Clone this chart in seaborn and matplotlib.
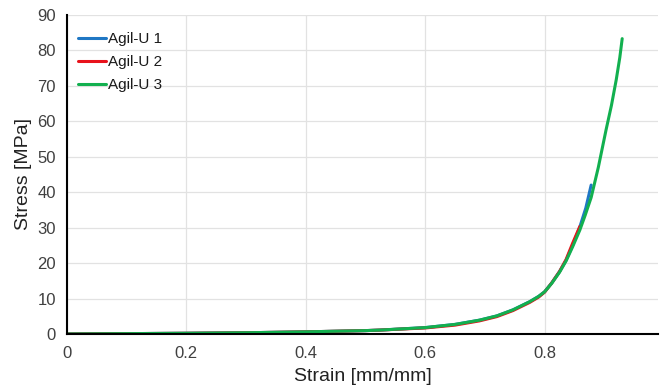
import numpy as np
import pandas as pd
import matplotlib
matplotlib.use("Agg")
import matplotlib.pyplot as plt
import seaborn as sns

# Stress-strain curves for three Agil-U specimens
strain_1 = [0.0, 0.1, 0.2, 0.3, 0.4, 0.5, 0.524, 0.6, 0.65, 0.691, 0.72, 0.747, 0.775, 0.79, 0.8, 0.812, 0.825, 0.836, 0.847, 0.859, 0.869, 0.878]
stress_1 = [0.0, 0.1, 0.2, 0.35, 0.6, 0.95, 1.1, 1.8, 2.7, 3.9, 5.1, 6.8, 9.1, 10.6, 11.9, 14.4, 17.6, 20.8, 25.0, 30.2, 35.5, 42.0]

strain_2 = [0.0, 0.1, 0.2, 0.3, 0.4, 0.5, 0.524, 0.6, 0.65, 0.691, 0.72, 0.747, 0.775, 0.79, 0.8, 0.812, 0.825, 0.836, 0.847, 0.859]
stress_2 = [0.0, 0.1, 0.2, 0.35, 0.6, 0.95, 1.1, 1.7, 2.5, 3.7, 4.9, 6.6, 8.9, 10.4, 11.8, 14.4, 17.6, 21.0, 25.6, 30.3]

strain_3 = [0.0, 0.1, 0.2, 0.3, 0.4, 0.5, 0.524, 0.6, 0.65, 0.691, 0.72, 0.747, 0.775, 0.79, 0.8, 0.812, 0.825, 0.836, 0.847, 0.859, 0.868, 0.878, 0.89, 0.903, 0.912, 0.92, 0.926, 0.93]
stress_3 = [0.0, 0.1, 0.2, 0.35, 0.6, 0.95, 1.1, 1.8, 2.7, 3.9, 5.1, 6.8, 9.1, 10.6, 11.9, 14.3, 17.4, 20.6, 24.6, 29.3, 33.5, 38.5, 47.0, 57.6, 64.5, 71.7, 78.0, 83.3]

labels = ["Agil-U 1", "Agil-U 2", "Agil-U 3"]
colors = ["#1f77c4", "#e8121b", "#12b04f"]

frames = []
for lab, sx, sy in zip(labels, [strain_1, strain_2, strain_3], [stress_1, stress_2, stress_3]):
    frames.append(pd.DataFrame({"strain": sx, "stress": sy, "sample": lab}))
df = pd.concat(frames, ignore_index=True)

sns.set_style("white")
plt.rcParams["font.family"] = ["Liberation Sans", "DejaVu Sans"]

fig, ax = plt.subplots(figsize=(6.6, 3.92), dpi=100)
fig.subplots_adjust(left=0.1015, right=0.997, top=0.962, bottom=0.148)

sns.lineplot(data=df, x="strain", y="stress", hue="sample", palette=colors,
             sort=False, estimator=None, linewidth=2.2, ax=ax)

ax.set_xlim(0, 0.99)
ax.set_ylim(0, 90)
ax.set_xticks([0, 0.2, 0.4, 0.6, 0.8])
ax.set_xticklabels(["0", "0.2", "0.4", "0.6", "0.8"])
ax.set_yticks(range(0, 91, 10))
ax.grid(True, color="#e2e2e2", linewidth=0.9)
ax.set_axisbelow(True)
for side in ["top", "right"]:
    ax.spines[side].set_visible(False)
for side in ["left", "bottom"]:
    ax.spines[side].set_color("black")
    ax.spines[side].set_linewidth(1.5)
ax.tick_params(axis="both", labelsize=12, length=0, colors="#404040")
ax.tick_params(axis="x", pad=9)
ax.tick_params(axis="y", pad=8)
ax.set_xlabel("Strain [mm/mm]", fontsize=14, color="#222222", labelpad=5)
ax.set_ylabel("Stress [MPa]", fontsize=14, color="#222222", labelpad=4)

leg = ax.legend(title=None, loc="upper left", bbox_to_anchor=(0.001, 0.98),
                frameon=False, fontsize=11,
                handlelength=1.8, handletextpad=0.15, labelspacing=0.6,
                borderaxespad=0.4, borderpad=0.3)
for txt in leg.get_texts():
    txt.set_color("#1a1a1a")

fig.savefig("out.png", dpi=100)
